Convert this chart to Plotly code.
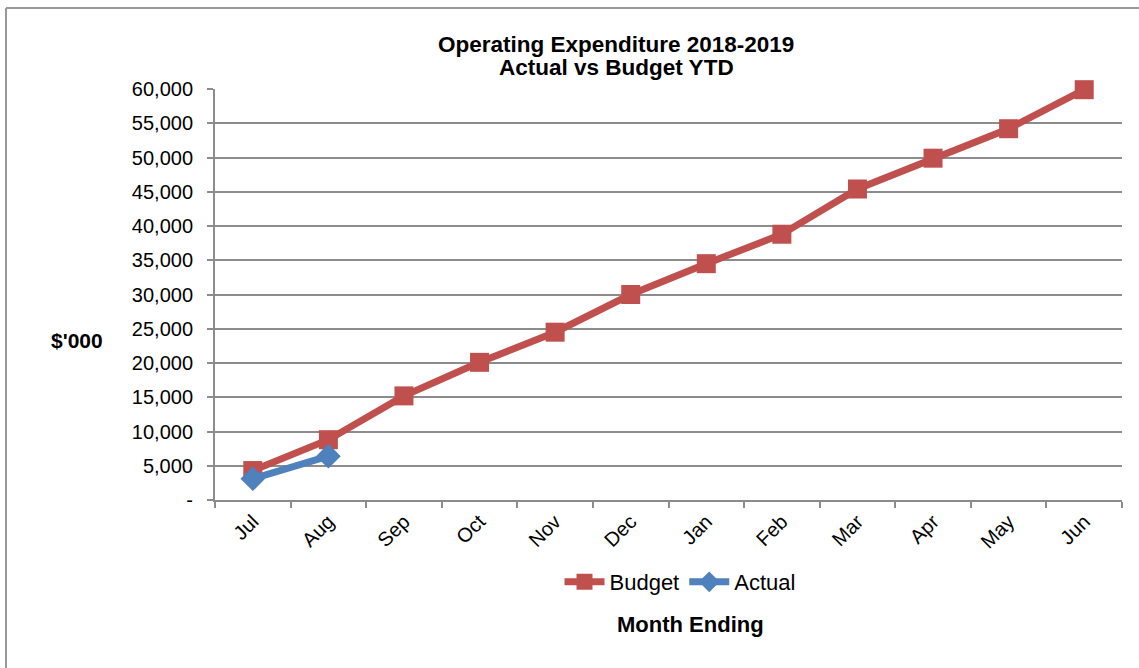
import plotly.graph_objects as go

months = ["Jul", "Aug", "Sep", "Oct", "Nov", "Dec", "Jan", "Feb", "Mar", "Apr", "May", "Jun"]
budget = [4300, 8800, 15200, 20100, 24500, 30000, 34500, 38800, 45400, 49900, 54200, 59900]
actual_months = ["Jul", "Aug"]
actual = [3100, 6400]

y_tickvals = [0, 5000, 10000, 15000, 20000, 25000, 30000, 35000, 40000, 45000, 50000, 55000, 60000]
y_ticktext = ["-", "5,000", "10,000", "15,000", "20,000", "25,000", "30,000", "35,000",
              "40,000", "45,000", "50,000", "55,000", "60,000"]

RED = "#C0504D"
BLUE = "#4F81BD"
GRID = "#8C8C8C"
FONT = "Liberation Sans, Arial, sans-serif"

fig = go.Figure()
fig.add_trace(go.Scatter(
    x=months, y=budget, name="Budget", mode="lines+markers",
    line=dict(color=RED, width=7),
    marker=dict(symbol="square", size=19, color=RED),
    cliponaxis=False,
))
fig.add_trace(go.Scatter(
    x=actual_months, y=actual, name="Actual", mode="lines+markers",
    line=dict(color=BLUE, width=7),
    marker=dict(symbol="diamond", size=19, color=BLUE),
    cliponaxis=False,
))

W, H = 1139, 668
L, R, T, B = 215, 17, 89, 168
pw, ph = W - L - R, H - T - B

def px_x(x):
    return (x - L) / pw

def px_y(y):
    return (H - B - y) / ph

fig.update_layout(
    width=W, height=H,
    margin=dict(l=L, r=R, t=T, b=B),
    paper_bgcolor="white", plot_bgcolor="white",
    font=dict(family=FONT, color="black", size=20),
    showlegend=True,
    legend=dict(orientation="h", x=px_x(680), y=px_y(582), xanchor="center", yanchor="middle",
                font=dict(size=22, family=FONT), itemwidth=40, traceorder="normal",
                tracegroupgap=0),
    xaxis=dict(
        type="category", categoryorder="array", categoryarray=months,
        range=[-0.5, 11.5], tickson="boundaries",
        showline=True, linecolor=GRID, linewidth=2,
        ticks="outside", ticklen=6, tickcolor=GRID, tickwidth=2,
        tickangle=-45, tickfont=dict(size=20, family=FONT),
        showgrid=False, zeroline=False, fixedrange=True,
    ),
    yaxis=dict(
        range=[0, 60000], tickvals=y_tickvals, ticktext=y_ticktext,
        showline=True, linecolor=GRID, linewidth=2,
        ticks="outside", ticklen=6, tickcolor=GRID, tickwidth=2,
        showgrid=True, gridcolor=GRID, gridwidth=2,
        zeroline=False, tickfont=dict(size=20, family=FONT),
        ticklabelstandoff=10, fixedrange=True,
    ),
    annotations=[
        dict(text="<b>Operating Expenditure 2018-2019</b>",
             xref="paper", yref="paper", x=px_x(616), y=px_y(44),
             xanchor="center", yanchor="middle", showarrow=False,
             font=dict(size=22.5, family=FONT)),
        dict(text="<b>Actual vs Budget YTD</b>",
             xref="paper", yref="paper", x=px_x(616), y=px_y(68),
             xanchor="center", yanchor="middle", showarrow=False,
             font=dict(size=22.5, family=FONT)),
        dict(text="<b>$'000</b>", xref="paper", yref="paper", x=px_x(77), y=px_y(340),
             xanchor="center", yanchor="middle", showarrow=False,
             font=dict(size=21, family=FONT)),
        dict(text="<b>Month Ending</b>", xref="paper", yref="paper", x=px_x(690), y=px_y(624),
             xanchor="center", yanchor="middle", showarrow=False,
             font=dict(size=22, family=FONT)),
    ],
    shapes=[
        dict(type="line", xref="paper", yref="paper", x0=px_x(6), x1=px_x(1160),
             y0=px_y(8), y1=px_y(8), line=dict(color="#999999", width=2)),
        dict(type="line", xref="paper", yref="paper", x0=px_x(6), x1=px_x(6),
             y0=px_y(8), y1=px_y(690), line=dict(color="#999999", width=2)),
    ],
)

fig.write_html("out.html")
